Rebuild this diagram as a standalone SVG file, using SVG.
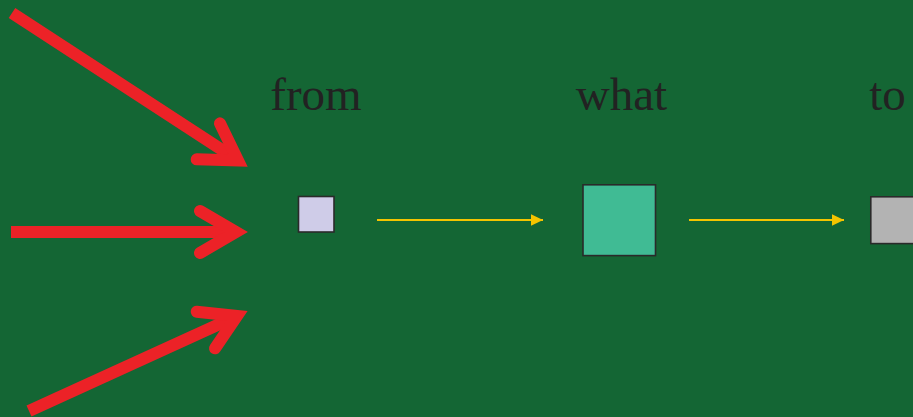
<svg xmlns="http://www.w3.org/2000/svg" width="913" height="417" viewBox="0 0 913 417">
  <defs>
    <marker id="yhead" viewBox="0 0 12 12" refX="12" refY="6" markerWidth="12" markerHeight="12" markerUnits="userSpaceOnUse" orient="auto">
      <path d="M0,0.3 L12,6 L0,11.7 Z" fill="#f4c400"/>
    </marker>
    <style>
      .lbl { font-family: "Liberation Serif", "Times New Roman", serif; font-size: 47px; fill: #222222; text-anchor: middle; }
      .box { stroke: #2a2a2a; stroke-width: 1.6; }
      .flow { stroke: #f4c400; stroke-width: 2; fill: none; marker-end: url(#yhead); }
      .shaft { stroke: #ec2227; stroke-width: 12; fill: none; stroke-linecap: butt; }
      .head { stroke: #ec2227; stroke-width: 12; fill: none; stroke-linecap: round; stroke-linejoin: miter; stroke-miterlimit: 10; }
    </style>
  </defs>
  <rect x="0" y="0" width="913" height="417" fill="#146634"/>

  <g id="connectors">
    <path class="shaft" d="M12,13 L236,159"/>
    <path class="head" d="M196.7,159.3 L238,160.5 L220,123.3"/>
    <path class="shaft" d="M11,232 L234,232"/>
    <path class="head" d="M200,211 L236,232 L200,253"/>
    <path class="shaft" d="M29,411 L235,317"/>
    <path class="head" d="M196.7,311.7 L237,316 L215,348.3"/>
    <path class="flow" d="M377,220 L543,220"/>
    <path class="flow" d="M689,220 L844,220"/>
  </g>

  <g id="node-from">
    <text class="lbl" x="316" y="110">from</text>
    <rect class="box" x="298.5" y="196.5" width="35.5" height="35.5" fill="#cfcce8"/>
  </g>
  <g id="node-what">
    <text class="lbl" x="621.5" y="110">what</text>
    <rect class="box" x="583" y="184.8" width="72.5" height="70.8" fill="#40bb94"/>
  </g>
  <g id="node-to">
    <text class="lbl" x="887.5" y="110">to</text>
    <rect class="box" x="870.8" y="196.8" width="47" height="46.8" fill="#b3b3b3"/>
  </g>
</svg>
